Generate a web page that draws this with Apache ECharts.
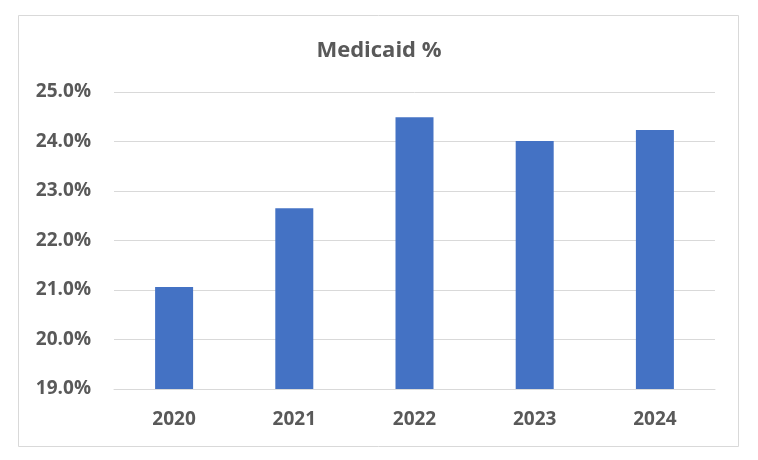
<!DOCTYPE html>
<html>
<head>
<meta charset="utf-8">
<script src="https://cdn.jsdelivr.net/npm/echarts@6/dist/echarts.min.js"></script>
<style>
html,body{margin:0;padding:0;background:#fff;}
#c{width:758px;height:460px;}
</style>
</head>
<body>
<div id="c"></div>
<script>
const categories = ['2020', '2021', '2022', '2023', '2024'];
const medicaidPct = [21.06, 22.65, 24.49, 24.01, 24.23];
const titleText = 'Medicaid %';

const chart = echarts.init(document.getElementById('c'), null, {renderer: 'canvas'});
const font = '"Open Sans", "DejaVu Sans", sans-serif';
chart.setOption({
  animation: false,
  backgroundColor: '#ffffff',
  title: {
    text: titleText,
    left: 'center',
    top: 35,
    textStyle: {color: '#595959', fontSize: 22, fontWeight: 'bold', fontFamily: font}
  },
  graphic: [{
    type: 'rect',
    shape: {x: 18.5, y: 15.5, width: 720, height: 431},
    style: {fill: 'none', stroke: '#d9d9d9', lineWidth: 1}
  }],
  grid: {left: 114, right: 43, top: 92, bottom: 71, containLabel: false},
  xAxis: {
    type: 'category',
    data: categories,
    axisLine: {show: true, lineStyle: {color: '#d9d9d9', width: 1}},
    axisTick: {show: false},
    axisLabel: {color: '#595959', fontSize: 19, fontWeight: 'bold', fontFamily: font, margin: 21}
  },
  yAxis: {
    type: 'value',
    min: 19,
    max: 25,
    interval: 1,
    axisLine: {show: false},
    axisTick: {show: false},
    splitLine: {lineStyle: {color: '#d9d9d9', width: 1}},
    axisLabel: {
      color: '#595959', fontSize: 19, fontWeight: 'bold', fontFamily: font, margin: 23,
      formatter: v => v.toFixed(1) + '%'
    }
  },
  series: [{
    type: 'bar',
    data: medicaidPct,
    barWidth: 38,
    itemStyle: {color: '#4472C4'}
  }]
});
</script>
</body>
</html>
